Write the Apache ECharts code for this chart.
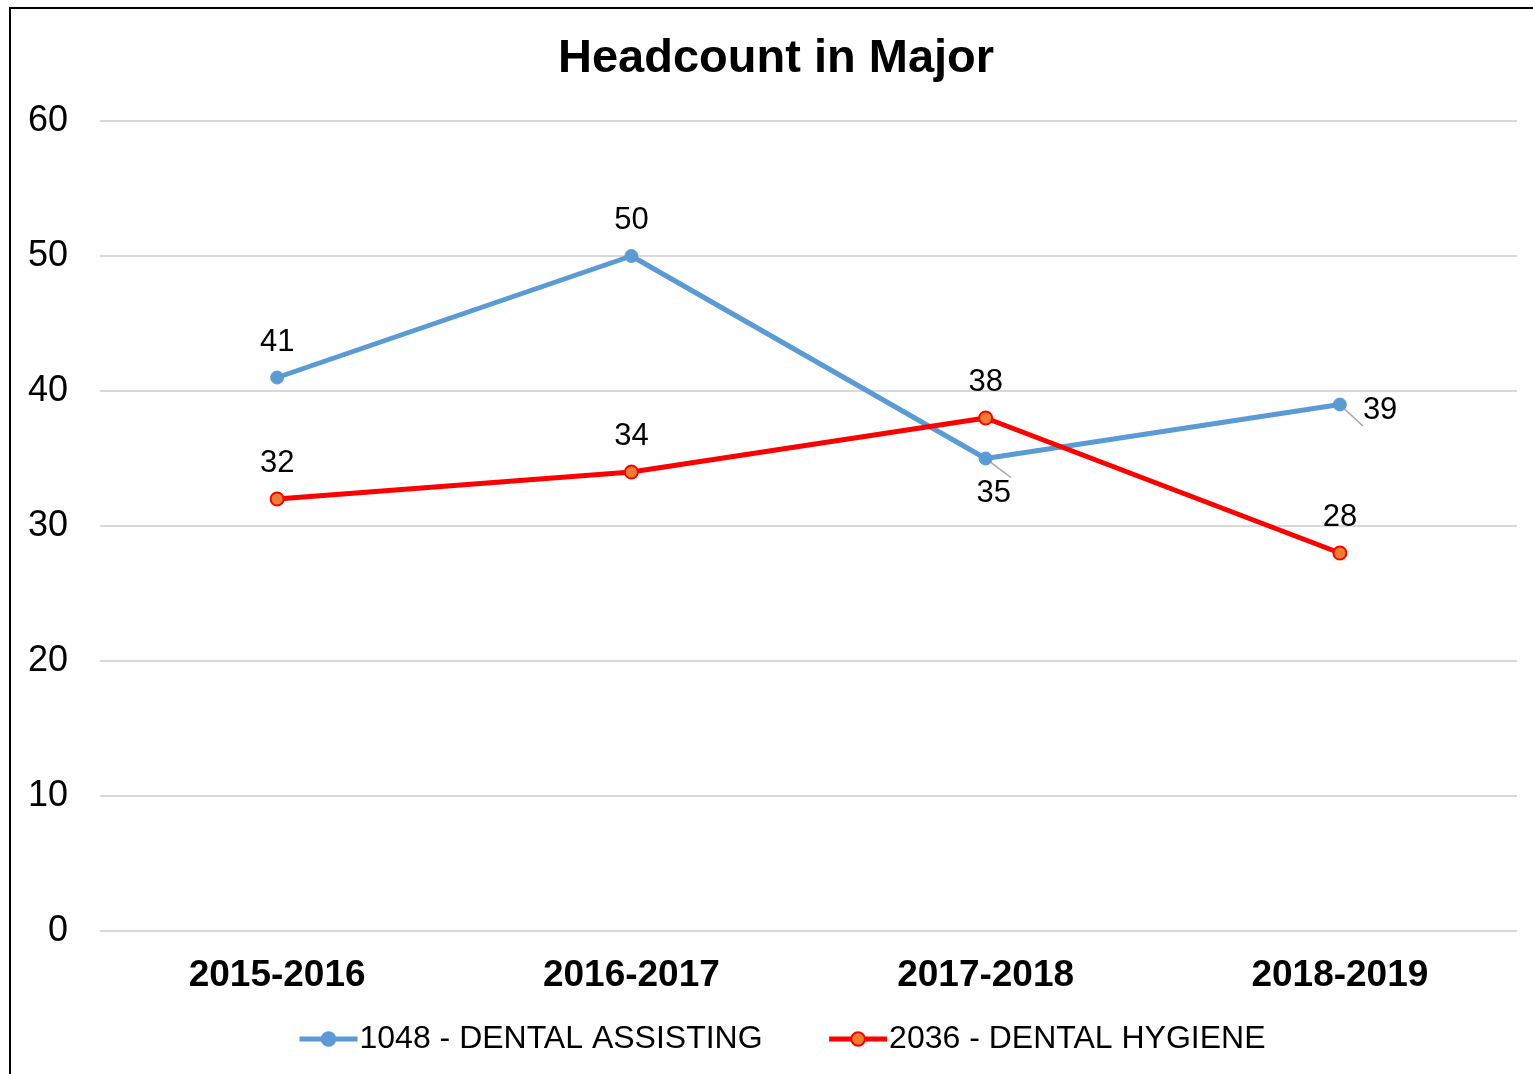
<!DOCTYPE html>
<html>
<head>
<meta charset="utf-8">
<title>Headcount in Major</title>
<script src="https://cdn.jsdelivr.net/npm/echarts@6/dist/echarts.min.js"></script>
<style>
  html, body { margin: 0; padding: 0; background: #fff; }
  #chart { position: absolute; left: 0; top: 0; width: 1533px; height: 1074px; }
  #frame {
    position: absolute; left: 9px; top: 7px; width: 1600px; height: 1200px;
    border-left: 2px solid #000; border-top: 2px solid #000; pointer-events: none;
  }
</style>
</head>
<body>
<div id="chart"></div>
<div id="frame"></div>
<script>
// data
const years = ["2015-2016", "2016-2017", "2017-2018", "2018-2019"];
const assisting = [41, 50, 35, 39];
const hygiene = [32, 34, 38, 28];
const seriesNames = ["1048 - DENTAL ASSISTING", "2036 - DENTAL HYGIENE"];

const font = "Arial, 'Liberation Sans', sans-serif";
const chart = echarts.init(document.getElementById("chart"));

// a couple of labels sit off the default position, with a small grey leader
const leader = { show: true, lineStyle: { color: "#a6a6a6", width: 1.5 } };
const assistingData = assisting.map((v, i) => {
  if (i === 2) {
    return { value: v, label: { position: "bottom", distance: 12, offset: [8, 0] }, labelLine: leader };
  }
  if (i === 3) {
    return { value: v, label: { position: "right", distance: 16, offset: [0, 6] }, labelLine: leader };
  }
  return v;
});

const option = {
  animation: false,
  title: {
    text: "Headcount in Major",
    left: 553,
    top: 31,
    textStyle: { fontFamily: font, fontSize: 47, fontWeight: "bold", color: "#000" }
  },
  legend: {
    left: 292,
    top: 1018,
    itemWidth: 58,
    itemHeight: 17,
    itemGap: 64,
    lineStyle: { width: 5 },
    textStyle: { fontFamily: font, fontSize: 32, color: "#000", padding: [0, 0, 0, -3] },
    data: seriesNames
  },
  grid: { left: 100, right: 16, top: 121, bottom: 143 },
  xAxis: {
    type: "category",
    data: years,
    boundaryGap: true,
    axisLine: { show: false },
    axisTick: { show: false },
    axisLabel: {
      margin: 26,
      fontFamily: font,
      fontSize: 37,
      fontWeight: "bold",
      color: "#000"
    }
  },
  yAxis: {
    type: "value",
    min: 0,
    max: 60,
    interval: 10,
    axisLine: { show: false },
    axisTick: { show: false },
    axisLabel: { margin: 32, fontFamily: font, fontSize: 36, color: "#000", padding: [3, 0, 0, 0] },
    splitLine: { lineStyle: { color: "#d9d9d9", width: 2 } }
  },
  series: [
    {
      name: seriesNames[0],
      type: "line",
      data: assistingData,
      symbol: "circle",
      symbolSize: 13,
      lineStyle: { color: "#5b9bd5", width: 5 },
      itemStyle: { color: "#5b9bd5", borderColor: "#5b9bd5", borderWidth: 1 },
      label: {
        show: true,
        position: "top",
        distance: 13,
        fontFamily: font,
        fontSize: 31,
        color: "#000"
      },
      z: 2
    },
    {
      name: seriesNames[1],
      type: "line",
      data: hygiene,
      symbol: "circle",
      symbolSize: 13,
      lineStyle: { color: "#ff0000", width: 5 },
      itemStyle: { color: "#ed7d31", borderColor: "#ff0000", borderWidth: 2 },
      label: {
        show: true,
        position: "top",
        distance: 13,
        fontFamily: font,
        fontSize: 31,
        color: "#000"
      },
      z: 3
    }
  ]
};

chart.setOption(option);
window.addEventListener("resize", () => chart.resize());
</script>
</body>
</html>
